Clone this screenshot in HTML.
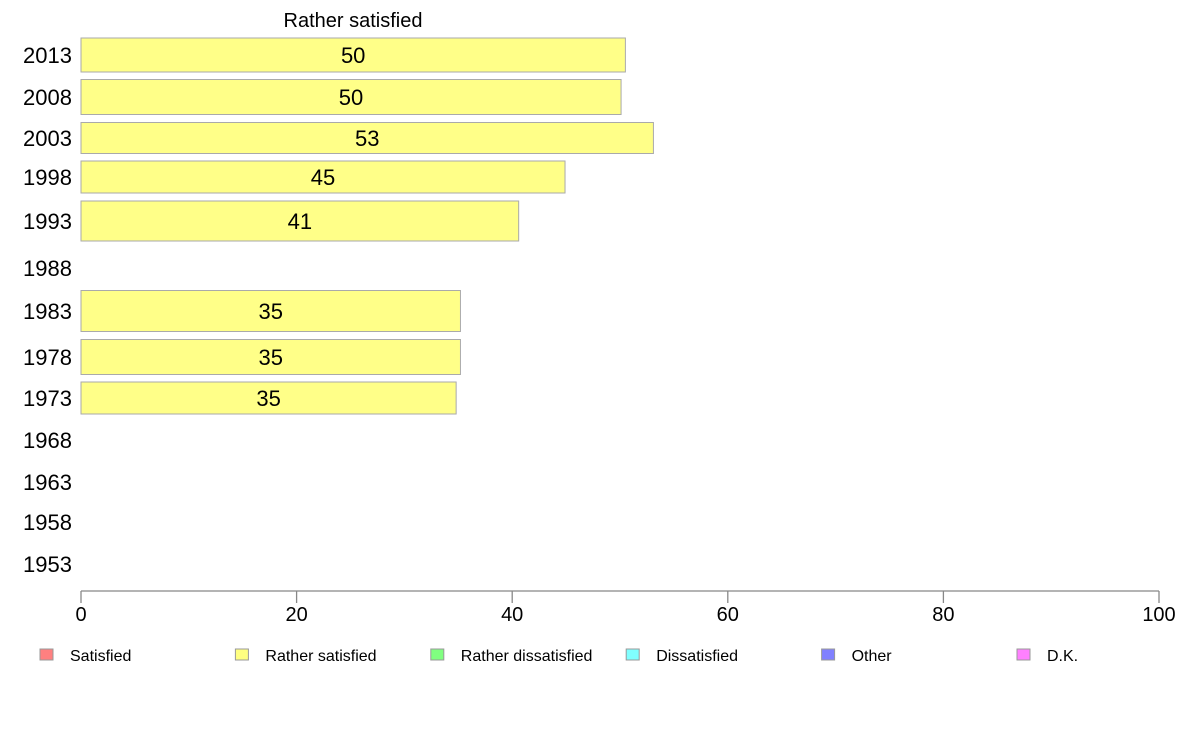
<!DOCTYPE html>
<html><head><meta charset="utf-8"><style>
html,body{margin:0;padding:0;background:#fff;width:1188px;height:736px;overflow:hidden}
text{font-family:"Liberation Sans",Arial,sans-serif;fill:#000}
</style></head><body>
<svg id="chart" width="1188" height="736" viewBox="0 0 1188 736" xmlns="http://www.w3.org/2000/svg">
<text x="353" y="27" font-size="20" text-anchor="middle">Rather satisfied</text>
<g id="axis"></g><g id="bars"></g><g id="legend"></g>
</svg>
<script>
const years = ["2013","2008","2003","1998","1993","1988","1983","1978","1973","1968","1963","1958","1953"];
const values = [50.5,50.1,53.1,44.9,40.6,null,35.2,35.2,34.8,null,null,null,null];
const printed = ["50","50","53","45","41","","35","35","35","","","",""];
const ticks = [0,20,40,60,80,100];
const legendLabels = ["Satisfied","Rather satisfied","Rather dissatisfied","Dissatisfied","Other","D.K."];
const legendColors = ["#ff8080","#ffff80","#80ff80","#80ffff","#8080ff","#ff80ff"];
// layout (row centers / bar heights in px)
const rowY = [55,97,138,177,221,268,311,357,398,440,482,522,564];
const rowH = [34,35,31,32,40,0,41,35,32,0,0,0,0];
const NS="http://www.w3.org/2000/svg";
const x0=81,x1=1159;
function xs(v){return x0+(v/100)*(x1-x0);}
function mk(t,a,p){const e=document.createElementNS(NS,t);for(const k in a)e.setAttribute(k,a[k]);p.appendChild(e);return e;}
const ax=document.getElementById('axis');
const al=mk('line',{x1:x0,x2:x1,y1:591,y2:591,stroke:'#888','stroke-width':1.3},ax);


ticks.forEach(t=>{
 const l=mk('line',{x1:xs(t),x2:xs(t),y1:591,y2:603,stroke:'#888','stroke-width':1.3},ax);
 
 
 const tx=mk('text',{x:xs(t),y:621,'font-size':20,'text-anchor':'middle'},ax);
 tx.textContent=t;
 
 
});
const bg=document.getElementById('bars');
years.forEach((y,i)=>{
 const t=mk('text',{x:72,y:rowY[i]+8,'font-size':22,'text-anchor':'end'},bg);
 t.textContent=y;
 
 
 if(values[i]!=null){
  const r=mk('rect',{x:x0,y:rowY[i]-rowH[i]/2,width:xs(values[i])-x0,height:rowH[i],fill:'#ffff88',stroke:'#aaa','stroke-width':1},bg);
  
  
  const v=mk('text',{x:(x0+xs(values[i]))/2,y:rowY[i]+8,'font-size':22,'text-anchor':'middle'},bg);
  v.textContent=printed[i];
  
  
 }
});
const lg=document.getElementById('legend');
legendLabels.forEach((l,i)=>{
 const lx=40+i*195.4;
 const r=mk('rect',{x:lx,y:649,width:13,height:11,fill:legendColors[i],stroke:'#999','stroke-width':1},lg);
 
 
 const t=mk('text',{x:lx+30,y:661,'font-size':16},lg);
 t.textContent=l;
 
 
});
</script>
</body></html>
